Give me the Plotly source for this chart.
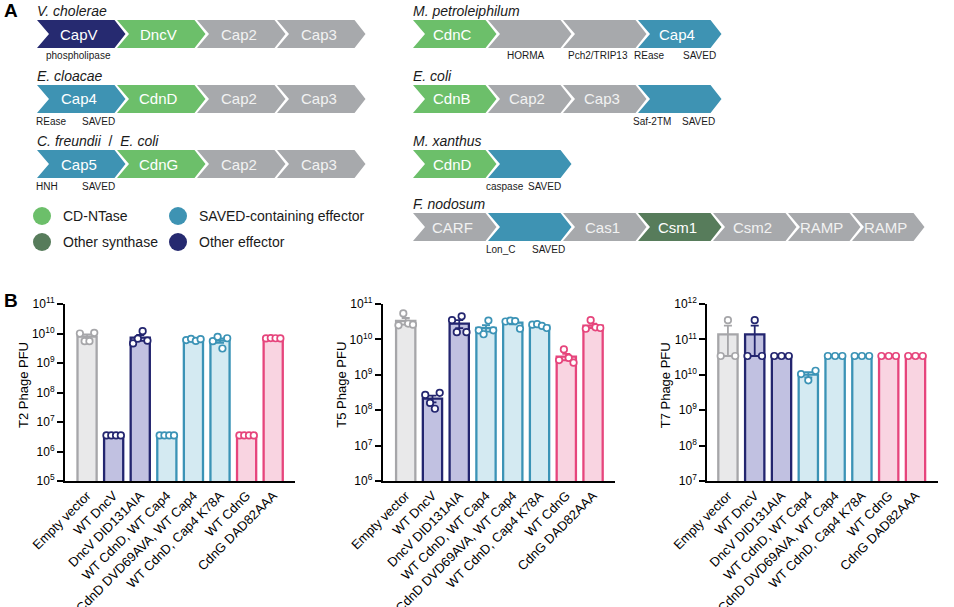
import numpy as np
import plotly.graph_objects as go

W, H = 954, 607
FONT = "Arial, Liberation Sans, sans-serif"

# ---------------- Panel B data ----------------
conditions = ["Empty vector", "WT DncV", "DncV DID131AIA", "WT CdnD, WT Cap4",
              "CdnD DVD69AVA, WT Cap4", "WT CdnD, Cap4 K78A", "WT CdnG", "CdnG DAD82AAA"]
condition_group = ["vector", "capv", "capv", "cap4", "cap4", "cap4", "cdng", "cdng"]

t2_pfu = [
    [1.0e10, 5.5e9, 5.5e9, 1.05e10],
    [3.5e6, 3.5e6, 3.5e6, 3.5e6],
    [4.6e9, 6.7e9, 1.2e10, 5.7e9],
    [3.5e6, 3.5e6, 3.5e6, 3.5e6],
    [6.0e9, 6.6e9, 5.6e9, 6.4e9],
    [5.5e9, 7.7e9, 3.1e9, 6.9e9],
    [3.5e6, 3.5e6, 3.5e6, 3.5e6],
    [6.8e9, 7.0e9, 6.9e9, 6.8e9],
]
t5_pfu = [
    [2.5e10, 5.4e10, 2.8e10, 2.6e10],
    [2.7e8, 1.6e8, 1.1e8, 3.1e8],
    [3.5e10, 1.6e10, 4.5e10, 1.6e10],
    [1.8e10, 1.4e10, 3.4e10, 1.8e10],
    [3.2e10, 3.4e10, 3.3e10, 2.0e10],
    [2.6e10, 2.7e10, 2.4e10, 2.1e10],
    [2.6e9, 5.2e9, 3.0e9, 2.2e9],
    [2.0e10, 3.5e10, 2.2e10, 2.1e10],
]
t7_pfu = [
    [3.4e10, 3.5e11, 3.4e10],
    [3.4e10, 3.5e11, 3.4e10],
    [3.4e10, 3.4e10, 3.4e10],
    [1.05e10, 7.0e9, 1.3e10],
    [3.4e10, 3.4e10, 3.4e10],
    [3.4e10, 3.4e10, 3.4e10],
    [3.4e10, 3.4e10, 3.4e10],
    [3.4e10, 3.4e10, 3.4e10],
]
t2_exponents = [5, 6, 7, 8, 9, 10, 11]
t5_exponents = [6, 7, 8, 9, 10, 11]
t7_exponents = [7, 8, 9, 10, 11, 12]
phage_titles = ["T2 Phage PFU", "T5 Phage PFU", "T7 Phage PFU"]

# ---------------- Panel A data ----------------
gene_colors = {
    "cdntase": "#6cbf6a",
    "othersyn": "#577c5b",
    "saved": "#3e93b3",
    "othereff": "#262a70",
    "gray": "#a7a9ac",
}
legend_items = [("CD-NTase", "cdntase"), ("SAVED-containing effector", "saved"),
                ("Other synthase", "othersyn"), ("Other effector", "othereff")]

clusters = [
    dict(species="<i>V. cholerae</i>",
         genes=[("CapV", "othereff"), ("DncV", "cdntase"), ("Cap2", "gray"), ("Cap3", "gray")],
         subs=["phospholipase"]),
    dict(species="<i>E. cloacae</i>",
         genes=[("Cap4", "saved"), ("CdnD", "cdntase"), ("Cap2", "gray"), ("Cap3", "gray")],
         subs=["REase", "SAVED"]),
    dict(species="<i>C. freundii</i>&nbsp;&nbsp;/&nbsp;&nbsp;<i>E. coli</i>",
         genes=[("Cap5", "saved"), ("CdnG", "cdntase"), ("Cap2", "gray"), ("Cap3", "gray")],
         subs=["HNH", "SAVED"]),
    dict(species="<i>M. petroleiphilum</i>",
         genes=[("CdnC", "cdntase"), ("", "gray"), ("", "gray"), ("Cap4", "saved")],
         subs=["HORMA", "Pch2/TRIP13", "REase", "SAVED"]),
    dict(species="<i>E. coli</i>",
         genes=[("CdnB", "cdntase"), ("Cap2", "gray"), ("Cap3", "gray"), ("", "saved")],
         subs=["Saf-2TM", "SAVED"]),
    dict(species="<i>M. xanthus</i>",
         genes=[("CdnD", "cdntase"), ("", "saved")],
         subs=["caspase", "SAVED"]),
    dict(species="<i>F. nodosum</i>",
         genes=[("CARF", "gray"), ("", "saved"), ("Cas1", "gray"), ("Csm1", "othersyn"),
                ("Csm2", "gray"), ("RAMP", "gray"), ("RAMP", "gray")],
         subs=["Lon_C", "SAVED"]),
]

# ---------------- layout (pixel) parameters ----------------
cluster_pos = [  # x start, arrow top, gene pitches, sublabel x centres
    dict(x=37, top=20, pitch=[80, 80, 80, 80], subx=[78]),
    dict(x=37, top=85, pitch=[80, 80, 80, 80], subx=[51, 98]),
    dict(x=37, top=150, pitch=[80, 80, 80, 80], subx=[47, 98]),
    dict(x=413, top=20, pitch=[75, 75, 75, 75], subx=[526, 598, 649, 699]),
    dict(x=413, top=85, pitch=[75, 75, 75, 75], subx=[652, 698]),
    dict(x=413, top=150, pitch=[75, 75], subx=[505, 544]),
    dict(x=413, top=213, pitch=[75, 75, 75, 75, 75, 64, 64], subx=[500, 548]),
]
AH, GAP, TIP, NOTCH = 28, 2.5, 11, 12


def px(x):
    return x / W


def py(y):
    return 1 - y / H


shapes = []
annotations = []

for cl, pos in zip(clusters, cluster_pos):
    top = pos["top"]
    bot = top + AH
    mid = top + AH / 2
    annotations.append(dict(x=px(pos["x"] - 2), y=py(top - 9), xref="paper", yref="paper",
                            text=cl["species"], showarrow=False, xanchor="left", yanchor="middle",
                            font=dict(family=FONT, size=14, color="#1a1a1a")))
    x0 = pos["x"]
    for (name, kind), p in zip(cl["genes"], pos["pitch"]):
        x1 = x0 + p - GAP
        tip = x1 + TIP
        notch = x0 + NOTCH
        path = (f"M {px(x0)},{py(top)} L {px(x1)},{py(top)} L {px(tip)},{py(mid)} "
                f"L {px(x1)},{py(bot)} L {px(x0)},{py(bot)} L {px(notch)},{py(mid)} Z")
        shapes.append(dict(type="path", path=path, xref="paper", yref="paper",
                           fillcolor=gene_colors[kind], line=dict(width=0)))
        if name:
            annotations.append(dict(x=px((x0 + x1) / 2 + 3), y=py(mid), xref="paper", yref="paper",
                                    text=name, showarrow=False, xanchor="center", yanchor="middle",
                                    font=dict(family=FONT, size=15,
                                              color="#f2f2f2" if kind == "gray" else "white")))
        x0 += p
    for s, sx in zip(cl["subs"], pos["subx"]):
        annotations.append(dict(x=px(sx), y=py(bot + 8), xref="paper", yref="paper", text=s,
                                showarrow=False, xanchor="center", yanchor="middle",
                                font=dict(family=FONT, size=10, color="#1a1a1a")))

legend_pos = [(42, 216), (178, 216), (42, 242), (178, 242)]
for (lab, kind), (cx, cy) in zip(legend_items, legend_pos):
    r = 9
    shapes.append(dict(type="circle", xref="paper", yref="paper",
                       x0=px(cx - r), x1=px(cx + r), y0=py(cy + r), y1=py(cy - r),
                       fillcolor=gene_colors[kind], line=dict(width=0)))
    annotations.append(dict(x=px(cx + 19), y=py(cy), xref="paper", yref="paper", text=lab,
                            showarrow=False, xanchor="left", yanchor="middle",
                            font=dict(family=FONT, size=14, color="#1a1a1a")))

for letter, (lx, ly) in [("A", (2, 10)), ("B", (2, 300))]:
    annotations.append(dict(x=px(lx), y=py(ly), xref="paper", yref="paper", text=f"<b>{letter}</b>",
                            showarrow=False, xanchor="left", yanchor="middle",
                            font=dict(family=FONT, size=19, color="black")))

# ---------------- Panel B ----------------
bar_fill = {"vector": "#e9e9ea", "capv": "#c1c1e1", "cap4": "#d4eaf2", "cdng": "#f9d4e1"}
bar_line = {"vector": "#a6a6a9", "capv": "#23256f", "cap4": "#3b93b6", "cdng": "#e6457c"}

panels = [
    dict(data=t2_pfu, exps=t2_exponents, xpix=(65, 295), xr=(-0.83, 7.82)),
    dict(data=t5_pfu, exps=t5_exponents, xpix=(382.7, 615), xr=(-0.86, 7.82)),
    dict(data=t7_pfu, exps=t7_exponents, xpix=(707.3, 938), xr=(-0.77, 7.84)),
]
YTOP, YBOT = 304, 481

fig = go.Figure()
layout = dict(width=W, height=H, margin=dict(l=0, r=0, t=0, b=0, autoexpand=False),
              paper_bgcolor="white", plot_bgcolor="white", showlegend=False,
              barmode="overlay", font=dict(family=FONT, color="black"))

for k, (pan, title) in enumerate(zip(panels, phage_titles)):
    sfx = "" if k == 0 else str(k + 1)
    xa, ya = "x" + sfx, "y" + sfx
    for i, (vals, grp) in enumerate(zip(pan["data"], condition_group)):
        v = np.array(vals)
        mean = v.mean()
        sem = v.std(ddof=1) / np.sqrt(len(v))
        fig.add_trace(go.Bar(x=[i], y=[mean], width=0.72, xaxis=xa, yaxis=ya,
                             marker=dict(color=bar_fill[grp], line=dict(color=bar_line[grp], width=2.3)),
                             error_y=dict(type="data", symmetric=True, array=[sem],
                                          color=bar_line[grp], thickness=1.8, width=4),
                             hoverinfo="skip"))
        n = len(v)
        offs = np.linspace(-0.27, 0.27, n) if n > 1 else [0]
        fig.add_trace(go.Scatter(x=[i + o for o in offs], y=vals, mode="markers", xaxis=xa, yaxis=ya,
                                 cliponaxis=False,
                                 marker=dict(symbol="circle", size=6.5, color="white",
                                             line=dict(color=bar_line[grp], width=1.7)),
                                 hoverinfo="skip"))
    exps = pan["exps"]
    layout["xaxis" + sfx] = dict(domain=[px(pan["xpix"][0]), px(pan["xpix"][1])], range=list(pan["xr"]),
                                 anchor=ya, tickmode="array", tickvals=list(range(len(conditions))),
                                 ticktext=conditions, tickangle=-45, showline=True, linecolor="black",
                                 linewidth=2, ticks="", showgrid=False, zeroline=False, automargin=False,
                                 tickfont=dict(family=FONT, size=13, color="black"))
    layout["yaxis" + sfx] = dict(domain=[py(YBOT), py(YTOP)], type="log", range=[exps[0], exps[-1]],
                                 anchor=xa, tickmode="array", tickvals=[10.0 ** e for e in exps],
                                 ticktext=[f"10<sup>{e}</sup>" for e in exps], showline=True,
                                 linecolor="black", linewidth=2, ticks="outside", ticklen=6, tickwidth=2,
                                 tickcolor="black", showgrid=False, zeroline=False, automargin=False,
                                 tickfont=dict(family=FONT, size=12, color="black"))
    annotations.append(dict(x=px(pan["xpix"][0] - 42), y=py(385), xref="paper", yref="paper",
                            text=title, textangle=-90, showarrow=False, xanchor="center",
                            yanchor="middle", font=dict(family=FONT, size=13, color="black")))

layout["shapes"] = shapes
layout["annotations"] = annotations
fig.update_layout(**layout)
fig.write_html("out.html", config={"displayModeBar": False},
               post_script="document.body.style.margin='0';document.body.style.padding='0';")
